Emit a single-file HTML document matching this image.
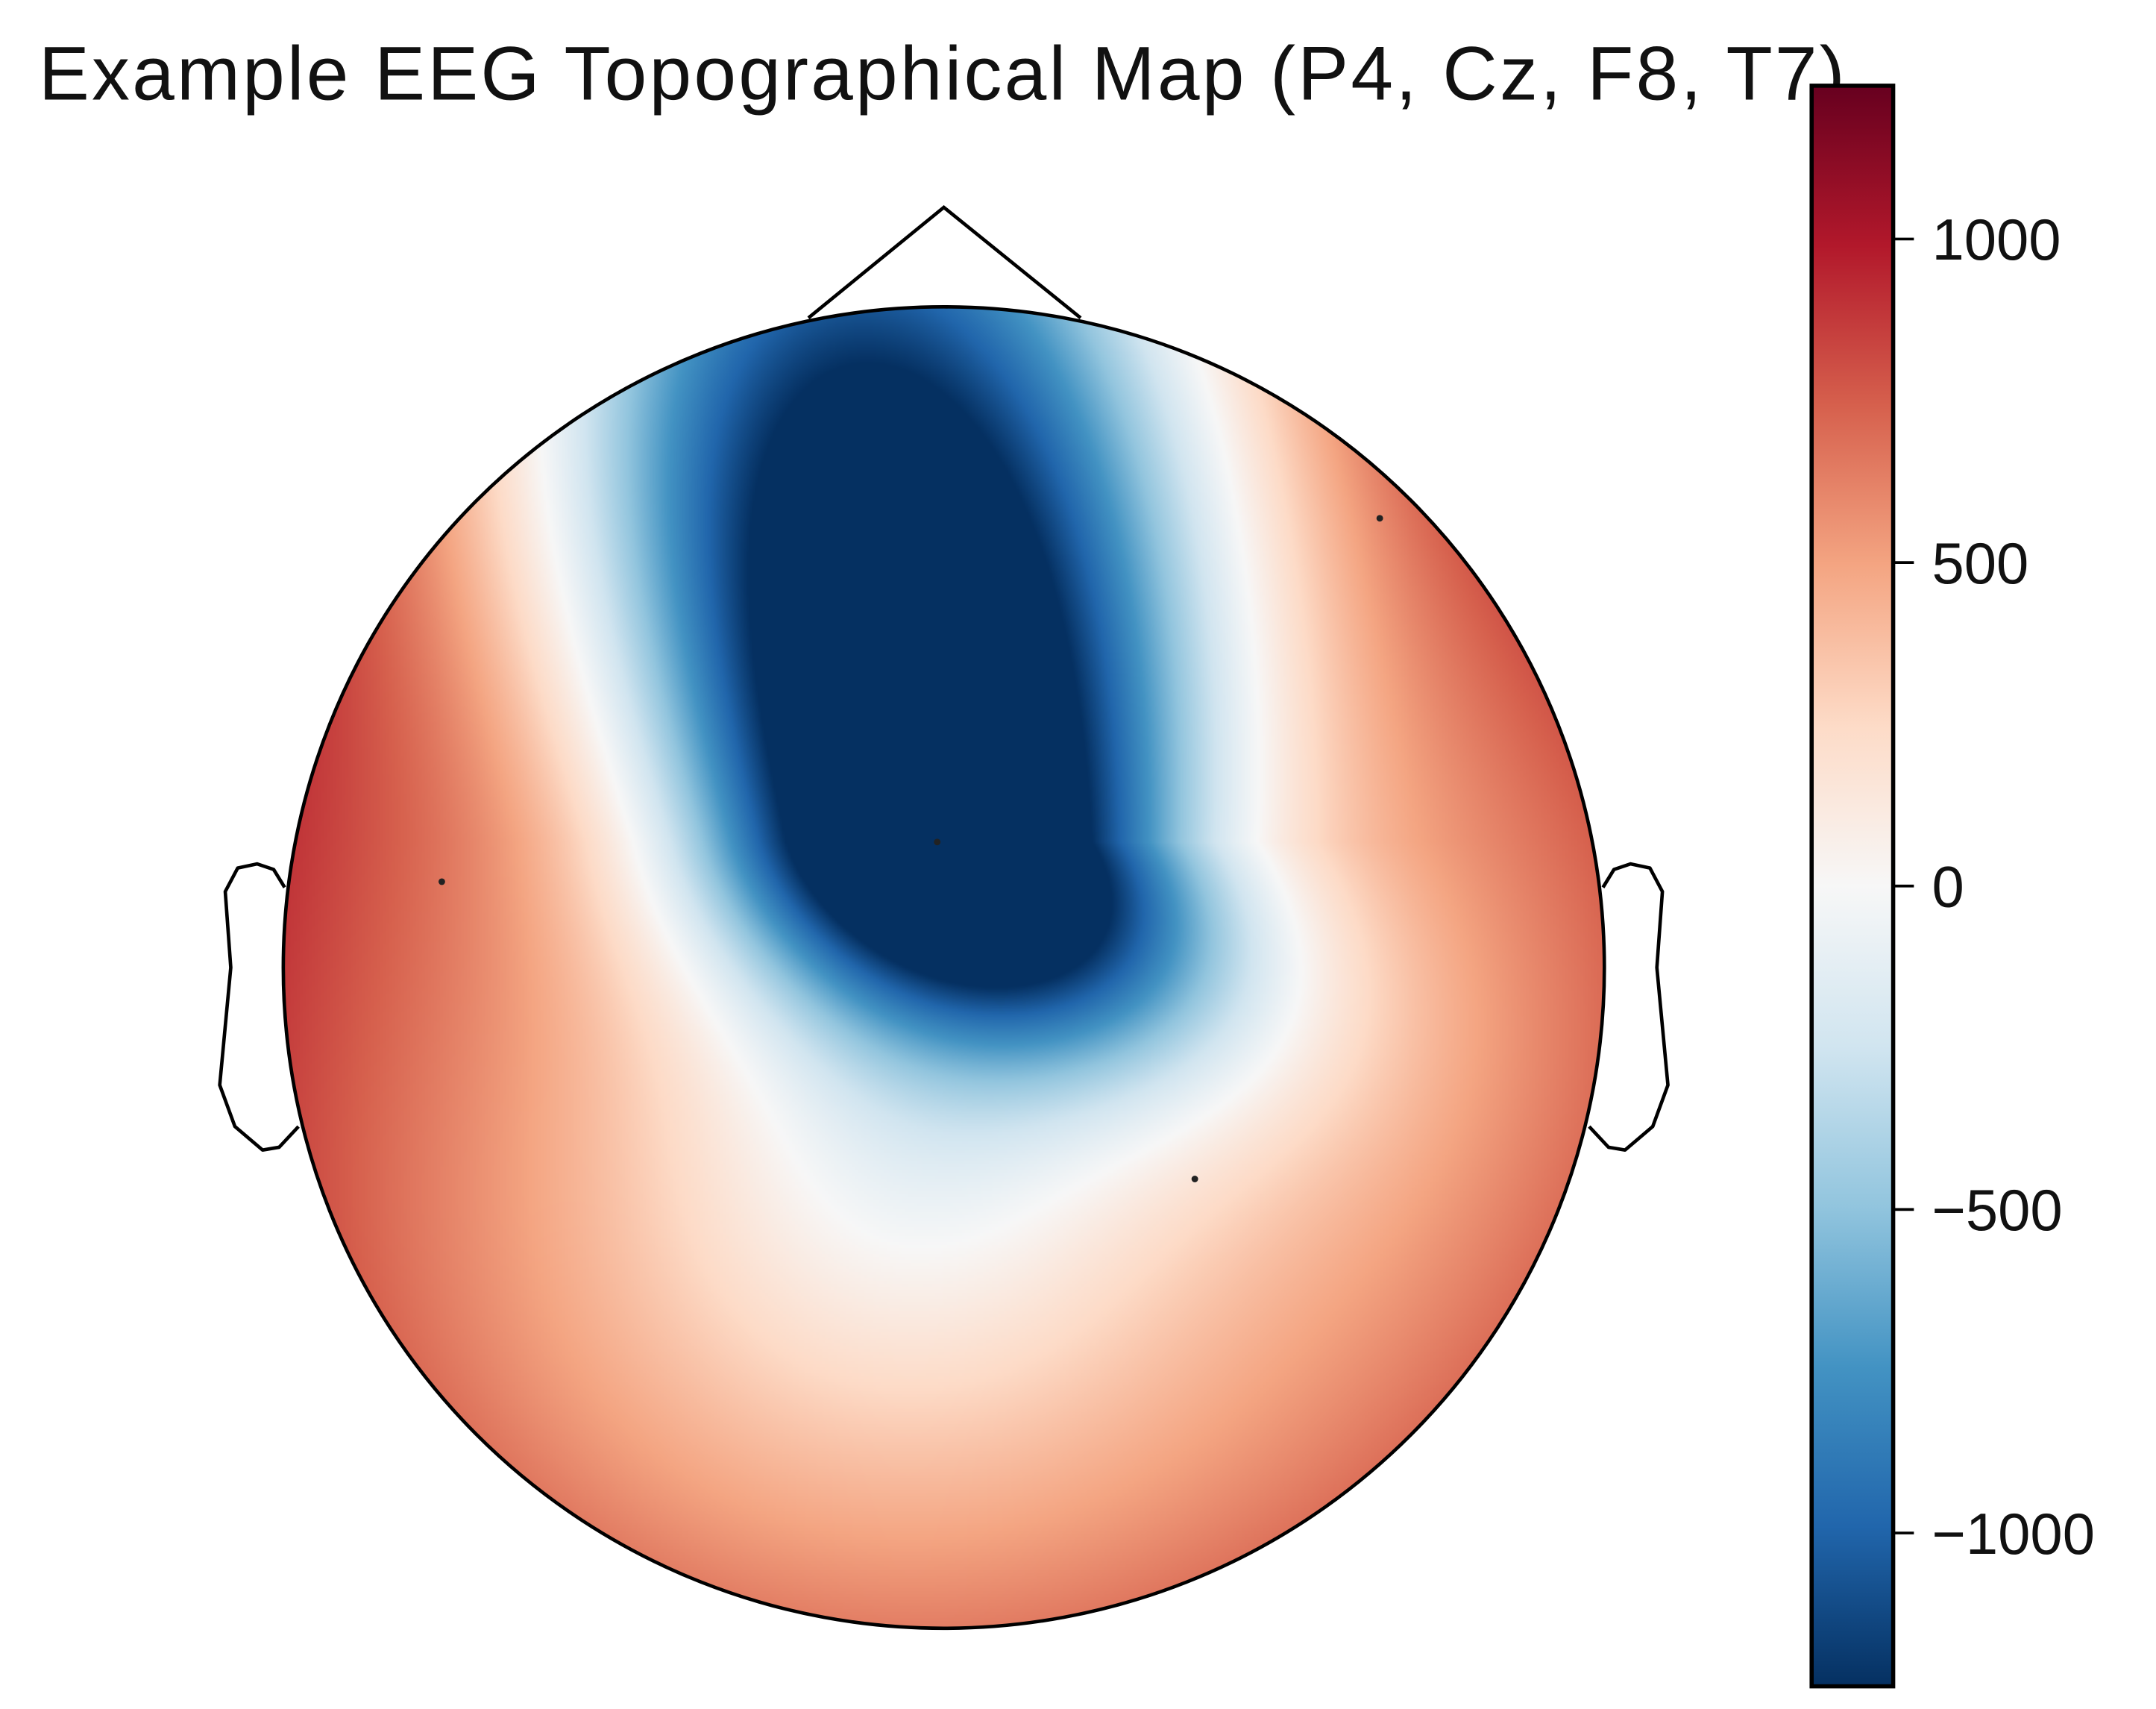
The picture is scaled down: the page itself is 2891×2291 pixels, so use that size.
<!DOCTYPE html>
<html><head><meta charset="utf-8"><style>
html,body{margin:0;padding:0;background:#fff;}
#wrap{position:relative;width:2891px;height:2291px;overflow:hidden;}
#topo{position:absolute;left:380px;top:411px;width:1772px;height:1772px;border-radius:50%;}
#ov{position:absolute;left:0;top:0;}
</style></head><body>
<div id="wrap">
<canvas id="topo" width="443" height="443"></canvas>
<svg id="ov" width="2891" height="2291" viewBox="0 0 1560.2 1236.4"></svg>
</div>
<script>
// ---- data ----
const electrodeNames = ["P4","Cz","F8","T7"];
const electrodeX = [0.38,-0.01,0.66,-0.76];   // head coords (radius 1)
const electrodeY = [-0.32,0.19,0.68,0.13];
const electrodeValues = [300,-1500,450,650];
const colorMin = -1237, colorMax = 1237;
const tickValues = [1000,500,0,-500,-1000];
const tickLabels = ["1000","500","0","\u2212500","\u22121000"];
const titleText = "Example EEG Topographical Map (P4, Cz, F8, T7)";

const NS="http://www.w3.org/2000/svg";
const stops=["#053061","#2166ac","#4393c3","#92c5de","#d1e5f0","#f7f7f7","#fddbc7","#f4a582","#d6604d","#b2182b","#67001f"];
function hex(h){return [parseInt(h.substr(1,2),16),parseInt(h.substr(3,2),16),parseInt(h.substr(5,2),16)];}
const rgbStops=stops.map(hex);
function cmap(t){t=Math.max(0,Math.min(1,t));const p=t*10,i=Math.min(9,Math.floor(p)),f=p-i;const a=rgbStops[i],b=rgbStops[i+1];return [a[0]+(b[0]-a[0])*f,a[1]+(b[1]-a[1])*f,a[2]+(b[2]-a[2])*f];}

const CX=683, CY=700, R=478;
function field(u,v){
  const r2=u*u+v*v;
  let f=600*r2;
  for(let i=0;i<electrodeValues.length;i++){
    let du=u-electrodeX[i], dv=v-electrodeY[i];
    if(electrodeValues[i]<0){
      let sx,sy;
      if(dv>0){ du+=0.15*dv; sx=0.36+0.25*dv; sy=1.6; }
      else { du-=0.5*(-dv); sx=0.36+0.12*(-dv); sy=0.3; }
      f+=electrodeValues[i]*1.5*Math.exp(-(du*du/(sx*sx)+dv*dv/(sy*sy)));
    } else {
      f+=electrodeValues[i]*0.5*Math.exp(-(du*du+dv*dv)/0.45);
    }
  }
  f-=280*Math.exp(-((u+0.05)*(u+0.05)+(v+0.3)*(v+0.3))/0.12);
  return f;
}
const cv=document.getElementById('topo'),ctx=cv.getContext('2d');
const N=cv.width,img=ctx.createImageData(N,N);
for(let j=0;j<N;j++)for(let i=0;i<N;i++){
  const u=(i+0.5)/N*2-1, v=1-(j+0.5)/N*2;
  const c=cmap((field(u,v)-colorMin)/(colorMax-colorMin));
  const k=(j*N+i)*4;img.data[k]=c[0];img.data[k+1]=c[1];img.data[k+2]=c[2];img.data[k+3]=255;
}
ctx.putImageData(img,0,0);

const svg=document.getElementById('ov');
function el(tag,attrs,parent){const e=document.createElementNS(NS,tag);for(const k in attrs)e.setAttribute(k,attrs[k]);(parent||svg).appendChild(e);return e;}

const t=el('text',{x:28,y:72,'font-family':'Liberation Sans, sans-serif','font-size':55,textLength:1307,fill:'#111'});
t.textContent=titleText;



const head=el('circle',{cx:CX,cy:CY,r:R,fill:'none',stroke:'#000','stroke-width':2.5});


const nose=el('polyline',{points:"585,230 683,150 782,230",fill:'none',stroke:'#000','stroke-width':2.5});


const earL="206,642 198,629 186,625 172,628 163,645 167,700 159,785 170,815 190,832 202,830 216,815";
const earLp=el('polyline',{points:earL,fill:'none',stroke:'#000','stroke-width':2.5,'stroke-linejoin':'round'});


const earR=earL.split(' ').map(p=>{const [x,y]=p.split(',');return (2*CX-x)+','+y;}).join(' ');
const earRp=el('polyline',{points:earR,fill:'none',stroke:'#000','stroke-width':2.5,'stroke-linejoin':'round'});



for(let i=0;i<electrodeNames.length;i++){
  const d=el('circle',{cx:CX+electrodeX[i]*R,cy:CY-electrodeY[i]*R,r:2.4,fill:'#222'});
  
  
}

const CBX=1311,CBY=62,CBW=59,CBH=1158;
const defs=el('defs',{});
const grad=el('linearGradient',{id:'cbg',x1:0,y1:1,x2:0,y2:0},defs);
stops.forEach((s,i)=>el('stop',{offset:(i/10),'stop-color':s},grad));
const cb=el('rect',{x:CBX,y:CBY,width:CBW,height:CBH,fill:'url(#cbg)',stroke:'#000','stroke-width':3});


function cy(v){return CBY+CBH*(colorMax-v)/(colorMax-colorMin);}
for(let i=0;i<tickValues.length;i++){
  const y=cy(tickValues[i]);
  const tk=el('line',{x1:CBX+CBW,x2:CBX+CBW+15,y1:y,y2:y,stroke:'#000','stroke-width':2});
  
  
  const lb=el('text',{x:1398,y:y+15,'font-family':'Liberation Sans, sans-serif','font-size':42,fill:'#111'});
  lb.textContent=tickLabels[i];
  
  
}
</script>
</body></html>
